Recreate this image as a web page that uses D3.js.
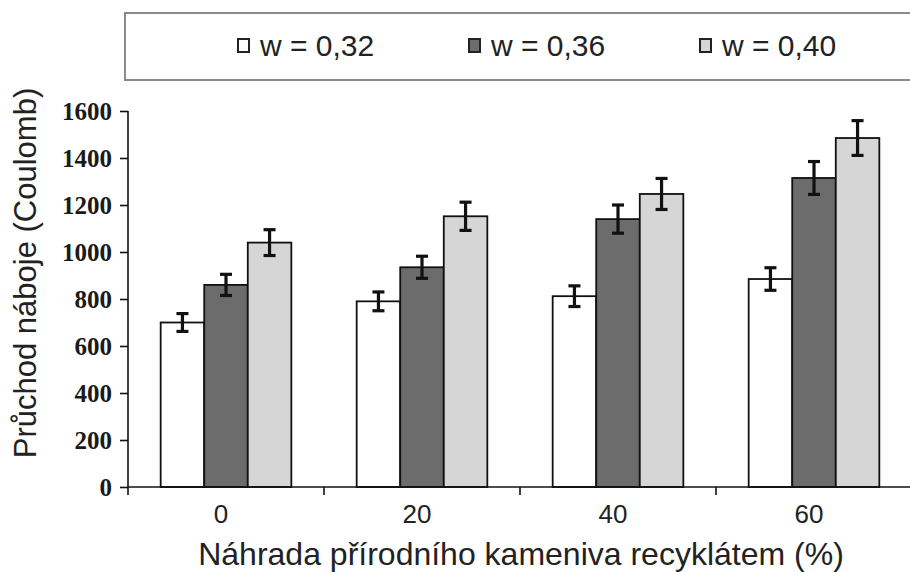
<!DOCTYPE html>
<html>
<head>
<meta charset="utf-8">
<script src="https://cdn.jsdelivr.net/npm/d3@7"></script>
<style>
  html, body { margin: 0; padding: 0; background: #fff; }
  svg { display: block; }
</style>
</head>
<body>
<svg id="chart" width="910" height="572"></svg>
<script>
// Replacement share of natural aggregate (%)
const categories = ["0", "20", "40", "60"];
// Water/cement ratio series
const seriesNames = ["w = 0,32", "w = 0,36", "w = 0,40"];
// Charge passed (Coulomb), one array per series
const valuesW032 = [700, 790, 812, 885];
const valuesW036 = [860, 935, 1140, 1315];
const valuesW040 = [1040, 1152, 1247, 1485];
// Error bar half-ranges (Coulomb)
const errorsW032 = [38, 40, 44, 48];
const errorsW036 = [45, 47, 60, 70];
const errorsW040 = [55, 60, 66, 74];
const yTicks = [0, 200, 400, 600, 800, 1000, 1200, 1400, 1600];
const seriesColors = ["#ffffff", "#6c6c6c", "#d6d6d6"];

const seriesValues = [valuesW032, valuesW036, valuesW040];
const seriesErrors = [errorsW032, errorsW036, errorsW040];

const svg = d3.select("#chart");

const plot = { left: 128, right: 912, top: 111, bottom: 487 };

const x = d3.scaleBand().domain(categories).range([plot.left, plot.right]).padding(0);
const bw = x.bandwidth();
// three bars with a 150 % gap between groups
const groupW = bw * 3 / 4.5;
const xSub = d3.scaleBand().domain(d3.range(seriesNames.length)).range([0, groupW]).padding(0);
const groupOffset = (bw - groupW) / 2;

const y = d3.scaleLinear().domain([0, 1600]).range([plot.bottom, plot.top]);

// Bars
const rows = [];
categories.forEach((c, ci) => {
  seriesValues.forEach((vals, si) => {
    rows.push({ cat: c, s: si, v: vals[ci], e: seriesErrors[si][ci] });
  });
});

svg.append("g").selectAll("rect").data(rows).join("rect")
  .attr("x", d => x(d.cat) + groupOffset + xSub(d.s))
  .attr("y", d => y(d.v))
  .attr("width", xSub.bandwidth())
  .attr("height", d => y(0) - y(d.v))
  .attr("fill", d => seriesColors[d.s])
  .attr("stroke", "#111")
  .attr("stroke-width", 1.8);

// Error bars
const capW = 12;
const eg = svg.append("g").attr("stroke", "#111").attr("stroke-width", 3.2).attr("fill", "none");
rows.forEach(d => {
  const cx = x(d.cat) + groupOffset + xSub(d.s) + xSub.bandwidth() / 2;
  eg.append("line").attr("x1", cx).attr("x2", cx).attr("y1", y(d.v + d.e)).attr("y2", y(d.v - d.e));
  eg.append("line").attr("x1", cx - capW / 2).attr("x2", cx + capW / 2).attr("y1", y(d.v + d.e)).attr("y2", y(d.v + d.e));
  eg.append("line").attr("x1", cx - capW / 2).attr("x2", cx + capW / 2).attr("y1", y(d.v - d.e)).attr("y2", y(d.v - d.e));
});

// Y axis
const yAxis = svg.append("g")
  .attr("transform", `translate(${plot.left},0)`)
  .call(d3.axisLeft(y).tickValues(yTicks).tickFormat(d3.format("d")).tickSize(8).tickPadding(8).tickSizeOuter(0));
yAxis.select(".domain").remove();
yAxis.append("line").attr("x1", 0).attr("x2", 0).attr("y1", plot.top).attr("y2", plot.bottom + 8)
  .attr("stroke", "#111").attr("stroke-width", 1.6);
yAxis.selectAll(".tick line").attr("stroke", "#111").attr("stroke-width", 1.6);
yAxis.selectAll(".tick text")
  .attr("font-family", "'Liberation Serif', 'Times New Roman', serif")
  .attr("font-size", 25).attr("font-weight", "bold").attr("fill", "#1a1a1a");

// X axis: ticks at category boundaries
const xAxisG = svg.append("g").attr("transform", `translate(0,${plot.bottom})`);
xAxisG.append("line").attr("x1", plot.left).attr("x2", plot.right).attr("y1", 0).attr("y2", 0)
  .attr("stroke", "#111").attr("stroke-width", 1.6);
const bounds = categories.map(c => x(c)).concat([x(categories[categories.length - 1]) + bw]);
xAxisG.selectAll("line.b").data(bounds.slice(1)).join("line").attr("class", "b")
  .attr("x1", d => d).attr("x2", d => d).attr("y1", 0).attr("y2", 8)
  .attr("stroke", "#111").attr("stroke-width", 1.6);
xAxisG.selectAll("text").data(categories).join("text")
  .attr("x", d => x(d) + bw / 2 - 5)
  .attr("y", 36)
  .attr("text-anchor", "middle")
  .attr("font-family", "'Liberation Sans', Arial, sans-serif")
  .attr("font-size", 26).attr("fill", "#222")
  .text(d => d);

// Axis titles
svg.append("text")
  .attr("x", 521).attr("y", 565)
  .attr("text-anchor", "middle")
  .attr("font-family", "'Liberation Sans', Arial, sans-serif")
  .attr("font-size", 32).attr("fill", "#222")
  .text("Náhrada přírodního kameniva recyklátem (%)");

svg.append("text")
  .attr("transform", "translate(36,273) rotate(-90)")
  .attr("text-anchor", "middle")
  .attr("font-family", "'Liberation Sans', Arial, sans-serif")
  .attr("font-size", 31).attr("fill", "#222")
  .text("Průchod náboje (Coulomb)");

// Legend
const lg = svg.append("g");
lg.append("rect").attr("x", 125).attr("y", 13).attr("width", 820).attr("height", 67)
  .attr("fill", "#fff").attr("stroke", "#8a8a8a").attr("stroke-width", 2);
const items = lg.selectAll("g.item").data(seriesNames).join("g").attr("class", "item")
  .attr("transform", (d, i) => `translate(${237 + i * 231},0)`);
items.append("rect").attr("x", 1).attr("y", 39).attr("width", 11).attr("height", 13)
  .attr("fill", (d, i) => seriesColors[i]).attr("stroke", "#222").attr("stroke-width", 2);
items.append("text").attr("x", 23).attr("y", 56)
  .attr("font-family", "'Liberation Sans', Arial, sans-serif")
  .attr("font-size", 30).attr("fill", "#222")
  .text(d => d);
</script>
</body>
</html>
